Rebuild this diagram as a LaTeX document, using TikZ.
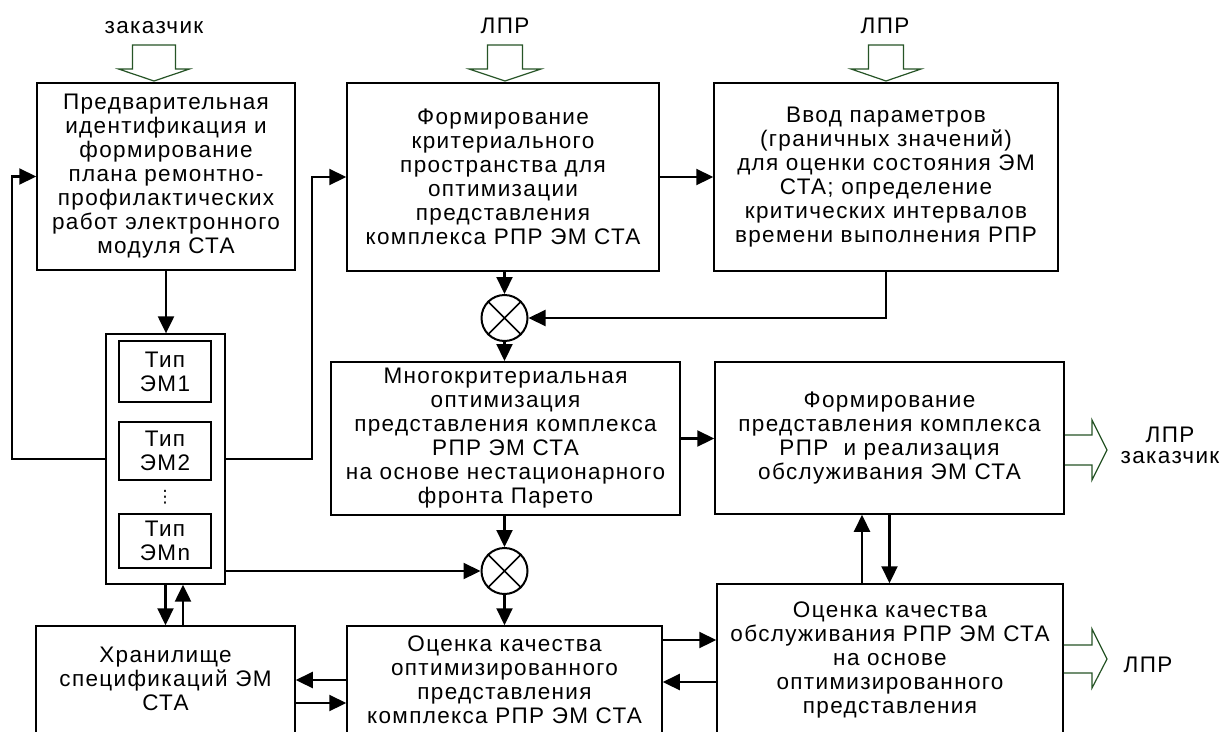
\documentclass[tikz,border=0pt]{standalone}
\usepackage{fontspec}
\setmainfont{Liberation Sans}[LetterSpace=6]
\newfontfamily\symfont{DejaVu Sans}
\usetikzlibrary{arrows.meta}
\definecolor{hollowgreen}{RGB}{38,84,38}
\newcommand{\blockfont}{\fontsize{22.5}{24}\selectfont}
\newcommand{\outfont}{\fontsize{22.5}{21}\selectfont}

\begin{document}
\begin{tikzpicture}[x=1pt,y=-1pt,
  blk/.style={draw, line width=1.5pt, align=center, inner sep=0pt, font=\blockfont},
  typebox/.style={blk, line width=2pt, minimum width=92pt},
  txt/.style={align=center, inner sep=0pt, font=\blockfont},
  conn/.style={line width=2.2pt, -{Triangle[length=17pt,width=16pt]}},
  mult/.style={draw, circle, line width=2pt, minimum size=46pt, inner sep=0pt},
  hollow/.style={draw=hollowgreen, line width=1.2pt, line join=miter}
]
\clip (0,0) rectangle (1222,731);
\fill[white] (0,0) rectangle (1222,731);

% ---- upper row of blocks
\node[blk, minimum width=258pt, minimum height=187pt] (pre) at (166,176.5)
  {Предварительная\\идентификация и\\формирование\\плана ремонтно-\\профилактических\\работ электронного\\модуля СТА};
\node[blk, minimum width=312pt, minimum height=188pt] (crit) at (503,177)
  {Формирование\\критериального\\пространства для\\оптимизации\\представления\\комплекса РПР ЭМ СТА};
\node[blk, minimum width=344pt, minimum height=188pt] (inp) at (886,177)
  {Ввод параметров\\(граничных значений)\\для оценки состояния ЭМ\\СТА; определение\\критических интервалов\\времени выполнения РПР};

% ---- container with the module types
\node[draw, line width=1.3pt, minimum width=119pt, minimum height=250pt, inner sep=0pt] (cont) at (165.5,459) {};
\node[typebox, minimum height=61pt] (em1) at (165,371.5) {Тип\\ЭМ1};
\node[typebox, minimum height=58pt] (em2) at (165,451) {Тип\\ЭМ2};
\node[inner sep=0pt, font=\symfont\fontsize{17}{17}\selectfont] (dots) at (165,497) {⋮};
\node[typebox, minimum height=54pt] (emn) at (165,541) {Тип\\ЭМn};

% ---- middle row
\node[mult] (m1) at (504.5,318) {};
\draw[line width=1.6pt] (m1.45) -- (m1.225) (m1.135) -- (m1.315);
\node[blk, line width=2pt, minimum width=349pt, minimum height=153pt] (opt) at (505.5,438.5)
  {Многокритериальная\\оптимизация\\представления комплекса\\РПР ЭМ СТА\\на основе нестационарного\\фронта Парето};
\node[blk, minimum width=349pt, minimum height=152pt] (form) at (889.5,438)
  {Формирование\\представления комплекса\\РПР~ и реализация\\обслуживания ЭМ СТА};
\node[mult] (m2) at (504.5,571) {};
\draw[line width=1.6pt] (m2.45) -- (m2.225) (m2.135) -- (m2.315);

% ---- lower row (continues below the edge)
\node[blk, minimum width=259pt, minimum height=134pt] (store) at (165.5,693) {};
\node[txt] (storetext) at (165.5,678.5) {Хранилище\\спецификаций ЭМ\\СТА};
\node[blk, minimum width=315pt, minimum height=134pt] (qopt) at (504.5,693) {};
\node[txt] (qopttext) at (504.5,680) {Оценка качества\\оптимизированного\\представления\\комплекса РПР ЭМ СТА};
\node[blk, minimum width=346pt, minimum height=176pt] (qserv) at (890,672) {};
\node[txt] (qservtext) at (890,660) {Оценка качества\\обслуживания РПР ЭМ СТА\\на основе\\оптимизированного\\представления};

% ---- external labels
\node[txt, anchor=base] (cust) at (154,33.5) {заказчик};
\node[txt, anchor=base] (lpra) at (505,33) {ЛПР};
\node[txt, anchor=base] (lprb) at (885,33) {ЛПР};
\node[align=center, inner sep=0pt, font=\outfont] (outa) at (1170,445) {ЛПР\\заказчик};
\node[txt, anchor=base] (outb) at (1148,672) {ЛПР};

% ---- hollow input arrows
\draw[hollow] (132.5,45) -- (175.5,45) -- (175.5,69) -- (189.5,69) -- (154,81) -- (118.5,69) -- (132.5,69) -- cycle;
\draw[hollow] (487.5,45) -- (522.5,45) -- (522.5,69) -- (541,69) -- (505,81) -- (469,69) -- (487.5,69) -- cycle;
\draw[hollow] (868.5,45) -- (903.5,45) -- (903.5,69) -- (921,69) -- (886,81) -- (851,69) -- (868.5,69) -- cycle;
% ---- hollow output arrows
\draw[hollow] (form.east |- 0,435) -- (1092,435) -- (1092,420) -- (1107,450) -- (1092,480) -- (1092,465) -- (form.east |- 0,465);
\draw[hollow] (qserv.east |- 0,645) -- (1092,645) -- (1092,629) -- (1107,659) -- (1092,688) -- (1092,673) -- (qserv.east |- 0,673);

% ---- connectors
\draw[conn] (pre.south) -- (pre.south |- cont.north);
\draw[conn] (cont.west) -- ++(-93,0) |- (pre.west);
\draw[conn] (cont.east) -- ++(86,0) |- (crit.west);
\draw[conn] (crit.east) -- (inp.west);
\draw[conn] (m1.north |- crit.south) -- (m1.north);
\draw[conn] (inp.south) |- (m1.east);
\draw[conn] (m1.south) -- (m1.south |- opt.north);
\draw[conn] (opt.east) -- (opt.east -| form.west);
\draw[conn] (m2.north |- opt.south) -- (m2.north);
\draw[conn] (cont.east |- m2.west) -- (m2.west);
\draw[conn] (m2.south) -- (m2.south |- qopt.north);

\coordinate (e2f) at (form.south);
\coordinate (f2e) at ([xshift=-27.5pt]form.south);
\draw[conn] (e2f) -- (e2f |- qserv.north);
\draw[conn] (f2e |- qserv.north) -- (f2e);

\coordinate (g2f) at ([yshift=53pt]qopt.east);
\coordinate (f2g) at ([yshift=-10pt]qserv.west);
\draw[conn] (g2f) -- (g2f -| qserv.west);
\draw[conn] (f2g) -- (f2g -| qopt.east);

\coordinate (g2h) at ([yshift=13pt]qopt.west);
\coordinate (h2g) at ([yshift=-10pt]store.east);
\draw[conn] (g2h) -- (g2h -| store.east);
\draw[conn] (h2g) -- (h2g -| qopt.west);

\coordinate (c2h) at (cont.south);
\coordinate (h2c) at ([xshift=17.5pt]cont.south);
\draw[conn] (c2h) -- (c2h |- store.north);
\draw[conn] (h2c |- store.north) -- (h2c);
\end{tikzpicture}
\end{document}
